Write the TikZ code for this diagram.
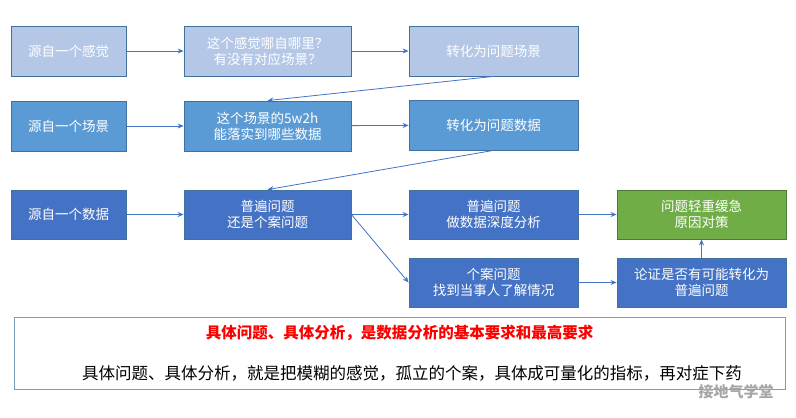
\documentclass[tikz,border=0pt]{standalone}
\usepackage{fontspec}
\setmainfont{Noto Sans CJK SC}
\usetikzlibrary{arrows.meta}
\definecolor{lightblue}{HTML}{B4C7E7}
\definecolor{midblue}{HTML}{5B9BD5}
\definecolor{darkblue}{HTML}{4472C4}
\definecolor{edgeblue}{HTML}{41719C}
\definecolor{okgreen}{HTML}{70AD47}
\tikzset{
  box/.style={draw=edgeblue, line width=0.8pt, text=white, align=center,
    font=\fontsize{13.5}{16}\selectfont, inner sep=0pt},
  flow/.style={draw=darkblue, line width=0.8pt, -{Stealth[length=6pt,width=5pt]}}
}
\begin{document}
\begin{tikzpicture}[x=1pt,y=-1pt]
\useasboundingbox (0,0) rectangle (796,418);
% first row
\node [box, fill=lightblue, minimum width=115pt, minimum height=50pt] (feel) at (68.5,51) {源自一个感觉};
\node [box, fill=lightblue, minimum width=167pt, minimum height=50pt] (where) at (267.5,51) {这个感觉哪自哪里？\\有没有对应场景？};
\node [box, fill=lightblue, minimum width=169pt, minimum height=50pt] (toscene) at (493.5,51) {转化为问题场景};
% second row
\node [box, fill=midblue, minimum width=115pt, minimum height=50pt] (scene) at (68.5,126) {源自一个场景};
\node [box, fill=midblue, minimum width=167pt, minimum height=50pt] (wh) at (267.5,126) {这个场景的5w2h\\能落实到哪些数据};
\node [box, fill=midblue, minimum width=169pt, minimum height=50pt] (todata) at (493.5,125) {转化为问题数据};
% third row
\node [box, fill=darkblue, minimum width=115pt, minimum height=49pt] (data) at (68.5,214.5) {源自一个数据};
\node [box, fill=darkblue, minimum width=167pt, minimum height=49pt] (kind) at (267.5,214.5) {普遍问题\\还是个案问题};
\node [box, fill=darkblue, minimum width=169pt, minimum height=49pt] (deep) at (493.5,214.5) {普遍问题\\做数据深度分析};
\node [box, fill=okgreen, draw=okgreen!70!black, minimum width=169pt, minimum height=49pt] (cause) at (701.5,214.5) {问题轻重缓急\\原因对策};
% fourth row
\node [box, fill=darkblue, minimum width=169pt, minimum height=49pt] (person) at (493.5,282.5) {个案问题\\找到当事人了解情况};
\node [box, fill=darkblue, minimum width=169pt, minimum height=49pt] (general) at (701.5,282.5) {论证是否有可能转化为\\普遍问题};
% arrows
\draw [flow] (feel) -- (where);
\draw [flow] (where) -- (toscene);
\draw [flow] (toscene.south) -- (wh.north);
\draw [flow] (scene) -- (wh);
\draw [flow] (wh) -- (todata);
\draw [flow] (todata.south) -- (kind.north);
\draw [flow] (data) -- (kind);
\draw [flow] (kind) -- (deep);
\draw [flow] (kind.east) -- (person.west);
\draw [flow] (deep) -- (cause);
\draw [flow] (person) -- (general);
\draw [flow] (general) -- (cause);
% summary
\node [draw=edgeblue!70, line width=0.8pt, minimum width=771pt, minimum height=72pt, inner sep=0pt] (note) at (399.5,353) {};
\node [text=red, font=\fontsize{15.5}{18}\selectfont\bfseries] (title) at (399.5,333) {具体问题、具体分析，是数据分析的基本要求和最高要求};
\node [font=\fontsize{16.5}{19}\selectfont] (body) at (412,373) {具体问题、具体分析，就是把模糊的感觉，孤立的个案，具体成可量化的指标，再对症下药};
\node [text=gray!70, font=\fontsize{15}{17}\selectfont\bfseries] (mark) at (736,392) {接地气学堂};
\end{tikzpicture}
\end{document}
